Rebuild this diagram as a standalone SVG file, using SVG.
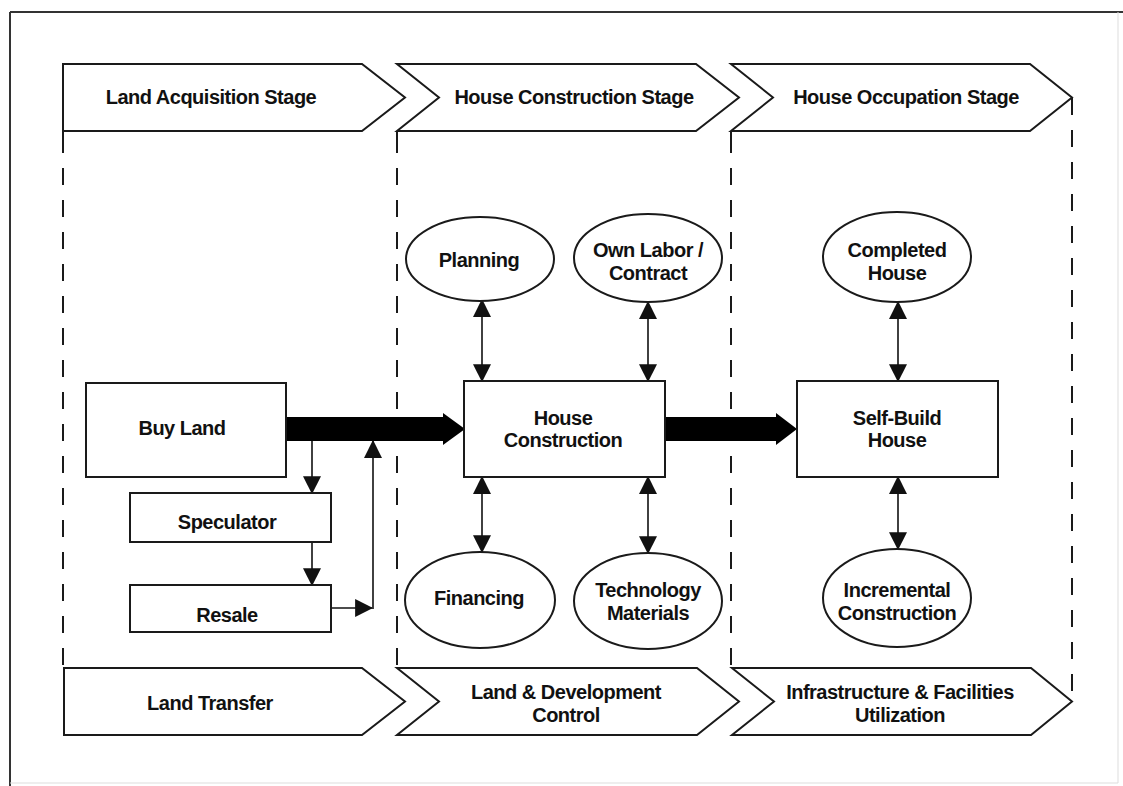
<svg xmlns="http://www.w3.org/2000/svg" width="1123" height="786" viewBox="0 0 1123 786">
<defs>
<style>
.t{font-family:"Liberation Sans",Arial,sans-serif;font-weight:bold;font-size:20px;letter-spacing:-0.5px;fill:#111;text-anchor:middle}
.box{fill:#fff;stroke:#1a1a1a;stroke-width:2}
.chev{fill:#fff;stroke:#1a1a1a;stroke-width:2;stroke-linejoin:miter}
.dash{fill:none;stroke:#1a1a1a;stroke-width:2;stroke-dasharray:17 15}
.solid{fill:none;stroke:#1a1a1a;stroke-width:2}
.conn{fill:none;stroke:#111;stroke-width:1.6}
.thick{fill:#000;stroke:none}
</style>
<marker id="ah" markerUnits="userSpaceOnUse" markerWidth="18" markerHeight="18" refX="15" refY="8" orient="auto-start-reverse" viewBox="0 0 16 16">
<path d="M0,0 L16,8 L0,16 Z" fill="#111"/>
</marker>
</defs>
<rect x="0" y="0" width="1123" height="786" fill="#fff"/>
<g id="frame">
<line x1="10" y1="12" x2="1123" y2="12" stroke="#333" stroke-width="2"/>
<line x1="10" y1="12" x2="10" y2="786" stroke="#333" stroke-width="2"/>
<line x1="1118" y1="12" x2="1118" y2="783" stroke="#ddd" stroke-width="1"/>
<line x1="10" y1="783" x2="1118" y2="783" stroke="#ddd" stroke-width="1"/>
</g>
<g id="lanes">
<line class="solid" x1="63" y1="131" x2="63" y2="153"/>
<line class="dash" x1="63" y1="168" x2="63" y2="668"/>
<line class="solid" x1="397" y1="131" x2="397" y2="153"/>
<line class="dash" x1="397" y1="168" x2="397" y2="668"/>
<line class="solid" x1="731" y1="131" x2="731" y2="153"/>
<line class="dash" x1="731" y1="168" x2="731" y2="668"/>
<line class="dash" x1="1072" y1="98" x2="1072" y2="700"/>
</g>
<g id="stage-land-acquisition">
<path class="chev" d="M63,64 H362 L405,97.5 L362,131 H63 Z"/>
<text class="t" x="211" y="104">Land Acquisition Stage</text>
</g>
<g id="stage-house-construction">
<path class="chev" d="M397,64 H696 L739,97.5 L696,131 H397 L439,97.5 Z"/>
<text class="t" x="574" y="104">House Construction Stage</text>
</g>
<g id="stage-house-occupation">
<path class="chev" d="M731,64 H1030 L1072,97.5 L1030,131 H731 L773,97.5 Z"/>
<text class="t" x="906" y="104">House Occupation Stage</text>
</g>
<g id="bottom-land-transfer">
<path class="chev" d="M64,668 H362 L405,701.5 L362,735 H64 Z"/>
<text class="t" x="210" y="710">Land Transfer</text>
</g>
<g id="bottom-land-dev-control">
<path class="chev" d="M397,668 H697 L739,701.5 L697,735 H397 L439,701.5 Z"/>
<text class="t" x="566" y="699">Land &amp; Development</text>
<text class="t" x="566" y="722">Control</text>
</g>
<g id="bottom-infrastructure">
<path class="chev" d="M732,668 H1031 L1072,701.5 L1031,735 H732 L774,701.5 Z"/>
<text class="t" x="900" y="699">Infrastructure &amp; Facilities</text>
<text class="t" x="900" y="722">Utilization</text>
</g>
<g id="connectors">
<path class="thick" d="M286,417 H443 V413 L465,429 L443,445 V441 H286 Z"/>
<path class="thick" d="M665,417 H776 V413 L797,429 L776,445 V441 H665 Z"/>
<line class="conn" x1="312" y1="441" x2="312" y2="493" marker-end="url(#ah)"/>
<line class="conn" x1="312" y1="542" x2="312" y2="585" marker-end="url(#ah)"/>
<line class="conn" x1="331" y1="608" x2="372" y2="608" marker-end="url(#ah)"/>
<line class="conn" x1="373" y1="609" x2="373" y2="441" marker-end="url(#ah)"/>
<line class="conn" x1="482" y1="300" x2="482" y2="381" marker-start="url(#ah)" marker-end="url(#ah)"/>
<line class="conn" x1="648" y1="302" x2="648" y2="381" marker-start="url(#ah)" marker-end="url(#ah)"/>
<line class="conn" x1="482" y1="477" x2="482" y2="552" marker-start="url(#ah)" marker-end="url(#ah)"/>
<line class="conn" x1="648" y1="477" x2="648" y2="553" marker-start="url(#ah)" marker-end="url(#ah)"/>
<line class="conn" x1="898" y1="302" x2="898" y2="381" marker-start="url(#ah)" marker-end="url(#ah)"/>
<line class="conn" x1="898" y1="477" x2="898" y2="549" marker-start="url(#ah)" marker-end="url(#ah)"/>
</g>
<g id="buy-land">
<rect class="box" x="86" y="383" width="200" height="94"/>
<text class="t" x="182" y="435">Buy Land</text>
</g>
<g id="speculator">
<rect class="box" x="130" y="493" width="201" height="49"/>
<text class="t" x="227" y="529">Speculator</text>
</g>
<g id="resale">
<rect class="box" x="130" y="585" width="201" height="47"/>
<text class="t" x="227" y="622">Resale</text>
</g>
<g id="house-construction">
<rect class="box" x="464" y="381" width="201" height="96"/>
<text class="t" x="563" y="425">House</text>
<text class="t" x="563" y="447">Construction</text>
</g>
<g id="planning">
<ellipse class="box" cx="480" cy="259" rx="74" ry="42"/>
<text class="t" x="479" y="267">Planning</text>
</g>
<g id="own-labor">
<ellipse class="box" cx="648" cy="258" rx="74" ry="44"/>
<text class="t" x="648" y="257">Own Labor /</text>
<text class="t" x="648" y="280">Contract</text>
</g>
<g id="financing">
<ellipse class="box" cx="480" cy="600" rx="75" ry="48"/>
<text class="t" x="479" y="605">Financing</text>
</g>
<g id="technology-materials">
<ellipse class="box" cx="648" cy="601" rx="74" ry="48"/>
<text class="t" x="648" y="597">Technology</text>
<text class="t" x="648" y="620">Materials</text>
</g>
<g id="self-build-house">
<rect class="box" x="797" y="381" width="201" height="96"/>
<text class="t" x="897" y="425">Self-Build</text>
<text class="t" x="897" y="447">House</text>
</g>
<g id="completed-house">
<ellipse class="box" cx="897" cy="257" rx="74" ry="45"/>
<text class="t" x="897" y="257">Completed</text>
<text class="t" x="897" y="280">House</text>
</g>
<g id="incremental-construction">
<ellipse class="box" cx="897" cy="598" rx="74" ry="49"/>
<text class="t" x="897" y="597">Incremental</text>
<text class="t" x="897" y="620">Construction</text>
</g>
</svg>
